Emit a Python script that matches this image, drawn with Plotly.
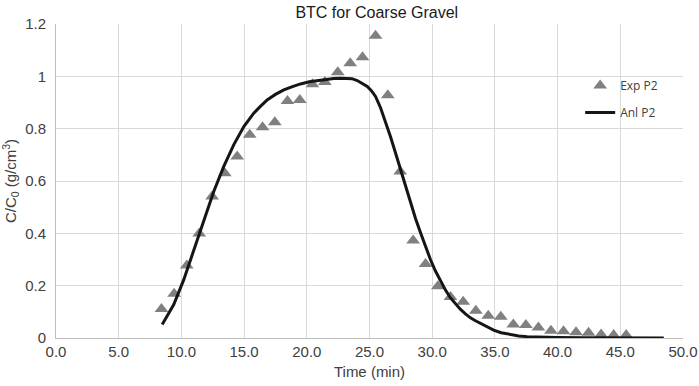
import plotly.graph_objects as go

# Experimental data (Exp P2)
exp_time = [8.41, 9.42, 10.43, 11.42, 12.45, 13.46, 14.45, 15.45, 16.47, 17.45,
            18.46, 19.44, 20.45, 21.44, 22.47, 23.46, 24.44, 25.48, 26.46, 27.45,
            28.48, 29.47, 30.45, 31.46, 32.47, 33.48, 34.47, 35.47, 36.47, 37.47,
            38.47, 39.47, 40.47, 41.47, 42.47, 43.47, 44.47, 45.47]
exp_conc = [0.111, 0.169, 0.277, 0.399, 0.541, 0.630, 0.694, 0.777, 0.805, 0.825,
            0.906, 0.910, 0.970, 0.978, 1.016, 1.050, 1.073, 1.155, 0.928, 0.636,
            0.373, 0.283, 0.198, 0.157, 0.139, 0.104, 0.085, 0.081, 0.052, 0.050,
            0.040, 0.028, 0.026, 0.022, 0.020, 0.013, 0.011, 0.011]

# Analytical curve (Anl P2)
anl_time = [8.47, 9.39, 10.19, 10.99, 11.79, 12.58, 13.38, 14.18, 14.98, 15.77,
            16.3, 16.84, 17.5, 18.17, 18.8, 19.5, 20.2, 20.83, 21.5, 22.15, 22.7,
            23.22, 23.6, 24.02, 24.42, 24.82, 25.15, 25.48, 25.88, 26.27,
            26.67, 27.07, 27.47, 27.87, 28.27, 28.67, 29.07, 29.46, 29.86, 30.26,
            30.66, 31.06, 31.46, 31.86, 32.26, 32.65, 33.05, 33.45, 33.85, 34.35,
            34.9, 35.5, 36.25, 36.9, 37.58, 38.5, 40.0, 42.0, 44.0, 46.0, 48.47]
anl_conc = [0.052, 0.128, 0.223, 0.338, 0.452, 0.560, 0.656, 0.739, 0.808, 0.859,
            0.885, 0.910, 0.931, 0.948, 0.960, 0.971, 0.979, 0.984, 0.989, 0.992, 0.993,
            0.993, 0.991, 0.984, 0.974, 0.961, 0.945, 0.923, 0.880, 0.828,
            0.770, 0.708, 0.643, 0.579, 0.516, 0.457, 0.402, 0.349, 0.300, 0.256,
            0.217, 0.183, 0.153, 0.129, 0.109, 0.092, 0.077, 0.066, 0.056, 0.043,
            0.030, 0.020, 0.013, 0.008, 0.005, 0.003, 0.002, 0.001, 0.001, 0.0, 0.0]

x_ticks = [0, 5, 10, 15, 20, 25, 30, 35, 40, 45, 50]
y_ticks = [0, 0.2, 0.4, 0.6, 0.8, 1.0, 1.2]

fig = go.Figure()
fig.add_trace(go.Scatter(
    x=exp_time, y=exp_conc, mode="markers", name="Exp P2", legendgroup="exp",
    marker=dict(symbol="triangle-up", size=12, color="#808080"),
))
fig.add_trace(go.Scatter(
    x=anl_time, y=anl_conc, mode="lines", name="Anl P2", legendgroup="anl",
    line=dict(color="#151515", width=3, shape="linear"),
))

axis_font = dict(family="Liberation Sans, Arial, sans-serif", size=15, color="#404040")

fig.update_layout(
    width=699, height=386,
    margin=dict(l=56, r=16, t=24, b=48, autoexpand=False),
    paper_bgcolor="white", plot_bgcolor="white",
    title=dict(text="BTC for Coarse Gravel", x=0.539, xanchor="center", y=0.969, yanchor="middle",
               font=dict(family="Liberation Sans, Arial, sans-serif", size=16, color="#1a1a1a")),
    showlegend=True,
    legend=dict(x=0.836, y=0.85, xanchor="left", yanchor="top", bgcolor="rgba(0,0,0,0)",
                font=dict(family="Open Sans, Liberation Sans, sans-serif", size=12, color="#404040"),
                itemwidth=30, tracegroupgap=8),
    xaxis=dict(
        range=[0, 50], tickvals=x_ticks, tickformat=".1f", automargin=False,
        showgrid=True, gridcolor="#d9d9d9", gridwidth=1,
        showline=True, linecolor="#bfbfbf", linewidth=1,
        zeroline=False, ticks="", tickfont=axis_font,
        title=dict(text="Time (min)", font=axis_font, standoff=7),
    ),
    yaxis=dict(
        range=[0, 1.2], tickvals=y_ticks, automargin=False, ticklabelstandoff=6,
        showgrid=True, gridcolor="#d9d9d9", gridwidth=1,
        showline=True, linecolor="#bfbfbf", linewidth=1,
        zeroline=False, ticks="", tickfont=axis_font,
        title=dict(text="C/C<sub>0</sub> (g/cm<sup>3</sup>)", font=axis_font, standoff=6),
    ),
)

fig.write_html("out.html", config={"displayModeBar": False},
               post_script="document.body.style.margin='0';")
